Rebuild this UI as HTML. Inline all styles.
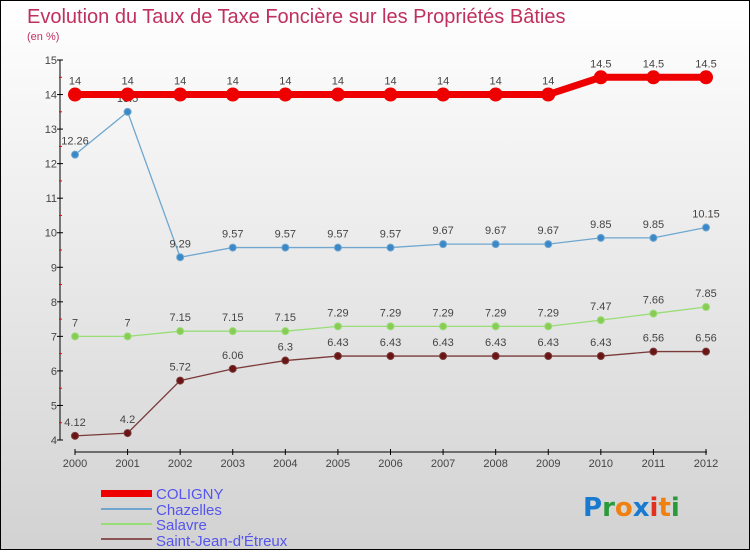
<!DOCTYPE html>
<html><head><meta charset="utf-8">
<style>
html,body{margin:0;padding:0}
body{width:750px;height:550px;overflow:hidden;font-family:"Liberation Sans",sans-serif}
#wrap{position:relative;width:748px;height:548px;border:1px solid #000;background:linear-gradient(#ffffff,#d2d2d2)}
</style></head><body>
<div id="wrap">
<svg id="chart" width="748" height="548">
<text x="26" y="22" font-size="20" fill="#c0305e">Evolution du Taux de Taxe Foncière sur les Propriétés Bâties</text>
<text x="26" y="39" font-size="11" fill="#c0305e">(en %)</text>
<g id="axes"></g><g id="series"></g>
<g>
<rect x="100" y="489" width="51" height="7" fill="#e00"/>
<text x="155" y="498" font-size="15" fill="#5555ee">COLIGNY</text>
<rect x="100" y="507" width="51" height="2" fill="#6fa7cf"/>
<text x="155" y="514" font-size="15" fill="#5555ee">Chazelles</text>
<rect x="100" y="522" width="51" height="2" fill="#99dd77"/>
<text x="155" y="529" font-size="15" fill="#5555ee">Salavre</text>
<rect x="100" y="537" width="51" height="2" fill="#8b5555"/>
<text x="155" y="545" font-size="15" fill="#5555ee">Saint-Jean-d'Étreux</text>
</g>
<text x="582" y="515" font-size="26" font-family="'DejaVu Sans',sans-serif" font-weight="bold"><tspan fill="#1a7ad0">P</tspan><tspan fill="#2a9a3a">r</tspan><tspan fill="#f08010">o</tspan><tspan fill="#1a7ad0">x</tspan><tspan fill="#e03020">i</tspan><tspan fill="#f08010">t</tspan><tspan fill="#2a9a3a">i</tspan></text>
</svg>
</div>
<script>
const years=[2000,2001,2002,2003,2004,2005,2006,2007,2008,2009,2010,2011,2012];
const coligny=[14,14,14,14,14,14,14,14,14,14,14.5,14.5,14.5];
const chazelles=[12.26,13.5,9.29,9.57,9.57,9.57,9.57,9.67,9.67,9.67,9.85,9.85,10.15];
const salavre=[7,7,7.15,7.15,7.15,7.29,7.29,7.29,7.29,7.29,7.47,7.66,7.85];
const saintJean=[4.12,4.2,5.72,6.06,6.3,6.43,6.43,6.43,6.43,6.43,6.43,6.56,6.56];
const yTicks=[4,5,6,7,8,9,10,11,12,13,14,15];
const NS="http://www.w3.org/2000/svg";
const xs=i=>74+i*(705-74)/(years.length-1);
const ys=v=>439-(v-4)*(439-59)/11;
function mk(tag,attrs,parent){const e=document.createElementNS(NS,tag);for(const k in attrs)e.setAttribute(k,attrs[k]);parent.appendChild(e);return e;}
const ax=document.getElementById('axes'),se=document.getElementById('series');
let l=mk('line',{x1:59,y1:ys(15),x2:59,y2:ys(4),stroke:'#000'},ax);


yTicks.forEach(t=>{
 mk('line',{x1:56,x2:62,y1:ys(t),y2:ys(t),stroke:'#000'},ax);
 if(t<15) mk('line',{x1:58,x2:61,y1:ys(t+0.5),y2:ys(t+0.5),stroke:'#e00'},ax);
 const tx=mk('text',{x:56,y:ys(t)+4,'text-anchor':'end','font-size':11,fill:'#444'},ax);
 tx.textContent=t;
 
 
});
l=mk('line',{x1:74,y1:451,x2:706,y2:451,stroke:'#000'},ax);


years.forEach((y,i)=>{
 mk('line',{x1:xs(i),x2:xs(i),y1:448,y2:454,stroke:'#000'},ax);
 const tx=mk('text',{x:xs(i),y:466,'text-anchor':'middle','font-size':11,fill:'#444'},ax);
 tx.textContent=y;
 
 
});
function draw(vals,color,w,r,name,fill){
 const g=mk('g',{},se);
 
 
 const p=mk('polyline',{points:vals.map((v,i)=>xs(i)+','+ys(v)).join(' '),fill:'none',stroke:color,'stroke-width':w},g);
 
 
 vals.forEach((v,i)=>{
  const c=mk('circle',{cx:xs(i),cy:ys(v),r:r,fill:fill,stroke:color,'stroke-width':1},g);
  
  
  const t=mk('text',{x:xs(i),y:ys(v)-10,'text-anchor':'middle','font-size':11,fill:'#444'},g);
  t.textContent=v;
  
  
 });
}
draw(saintJean,'#7a3a3a',1.3,3.5,'saint-jean','#6a1515');
draw(salavre,'#99dd77',1.3,3.5,'salavre','#88cc55');
draw(chazelles,'#6fa7cf',1.3,3.5,'chazelles','#3a88c8');
draw(coligny,'#ee0000',7,6.5,'coligny','#ee0000');
</script>
</body></html>
